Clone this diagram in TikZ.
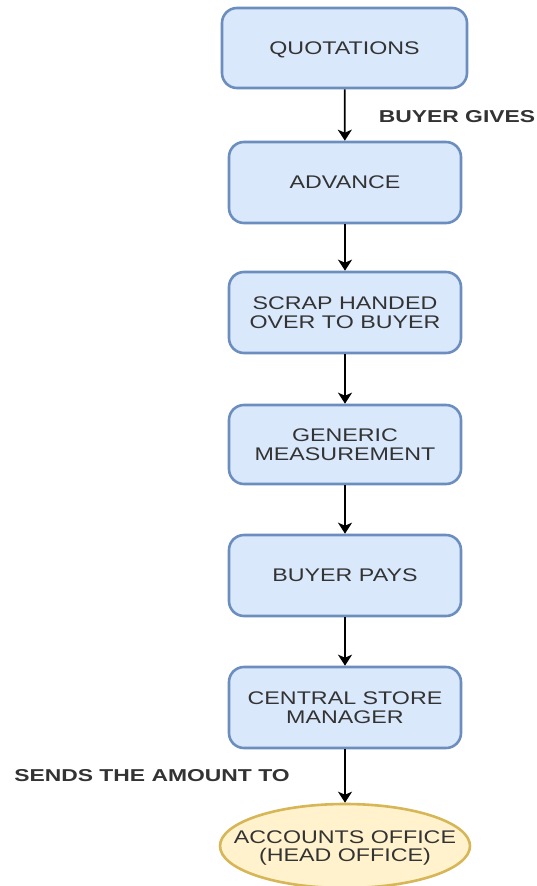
\documentclass[tikz,border=0pt]{standalone}
\usepackage{fontspec}
\usetikzlibrary{arrows.meta,shapes.geometric}
\newfontfamily\labelfont[FakeStretch=1.27]{Liberation Sans}
\newfontfamily\edgefont[FakeStretch=1.33]{Liberation Sans}
\definecolor{boxfill}{HTML}{DAE8FC}
\definecolor{boxline}{HTML}{6C8EBF}
\definecolor{endfill}{HTML}{FFF2CC}
\definecolor{endline}{HTML}{D6B656}
\definecolor{txt}{HTML}{333333}
\begin{document}
\begin{tikzpicture}[x=1pt,y=-1pt,
  stepbox/.style={draw=boxline,fill=boxfill,line width=2.6pt,rounded corners=15pt,
    minimum width=232pt,minimum height=81pt,inner sep=0pt,align=center,text depth=0pt,
    text=txt,font=\labelfont\fontsize{18.3}{18.3}\selectfont},
  endbox/.style={ellipse,draw=endline,fill=endfill,line width=2.6pt,
    minimum width=250pt,minimum height=84pt,inner xsep=-40pt,inner ysep=0pt,align=center,
    text depth=0pt,text=txt,font=\labelfont\fontsize{18.3}{18.3}\selectfont},
  flow/.style={line width=1.8pt,-{Stealth[length=11pt,width=14pt,inset=3pt]}},
  edgetext/.style={text=txt,font=\edgefont\bfseries\fontsize{17.2}{20}\selectfont,inner sep=0pt}]
\useasboundingbox (0,0) rectangle (537,886);
\clip (0,0) rectangle (537,886);

\node[stepbox,minimum width=245pt,minimum height=80pt] (quot) at (344.5,48) {QUOTATIONS};
\node[stepbox] (adv) at (345,182.5) {ADVANCE};
\node[stepbox] (scrap) at (345,312.5) {SCRAP HANDED\\OVER TO BUYER};
\node[stepbox,minimum height=79pt] (gen) at (345,444.5) {GENERIC\\MEASUREMENT};
\node[stepbox] (pays) at (345,575.5) {BUYER PAYS};
\node[stepbox] (csm) at (345,707.5) {CENTRAL STORE\\MANAGER};
\node[endbox] (acc) at (345,846) {ACCOUNTS OFFICE\\(HEAD OFFICE)};

\draw[flow] (quot) -- (adv);
\draw[flow] (adv) -- (scrap);
\draw[flow] (scrap) -- (gen);
\draw[flow] (gen) -- (pays);
\draw[flow] (pays) -- (csm);
\draw[flow] (csm) -- (acc);

\node[edgetext] (give) at (457,117) {BUYER GIVES};
\node[edgetext] (send) at (152,775.5) {SENDS THE AMOUNT TO};
\end{tikzpicture}
\end{document}
